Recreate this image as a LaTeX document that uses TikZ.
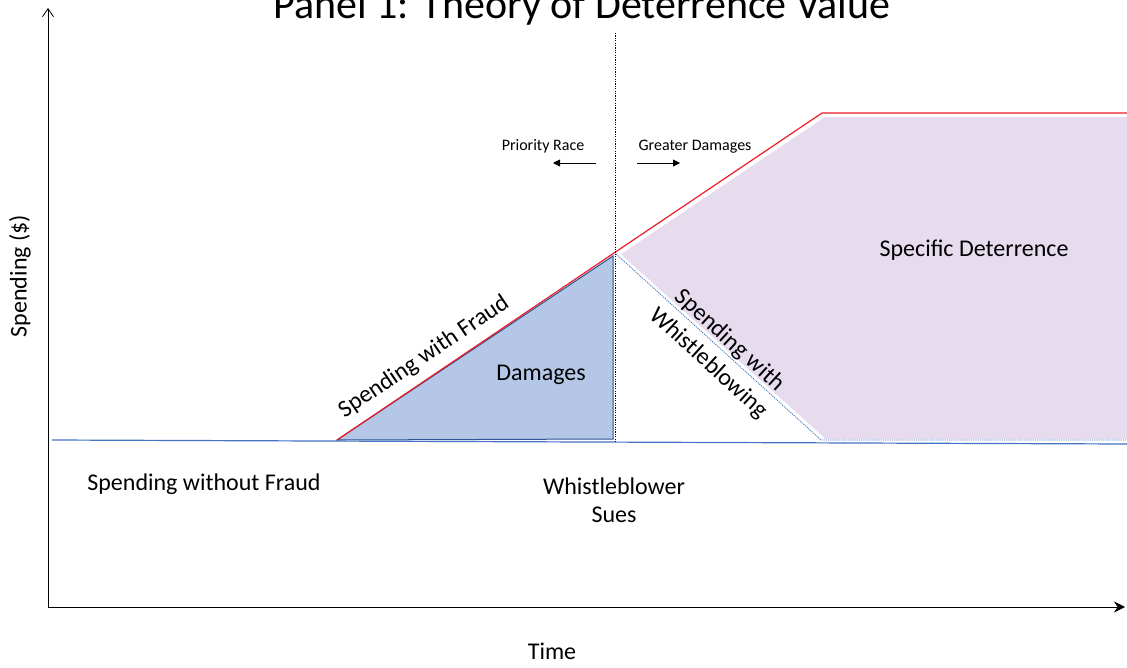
\documentclass[tikz,border=0pt]{standalone}
\usepackage{fontspec}
\setmainfont{Carlito}
\usetikzlibrary{arrows.meta}
\definecolor{redline}{RGB}{237,28,36}
\definecolor{blueline}{RGB}{68,114,196}
\definecolor{dmgfill}{RGB}{180,199,231}
\definecolor{dmgedge}{RGB}{47,85,151}
\definecolor{purplefill}{RGB}{230,220,238}
\tikzset{
  lbl/.style={inner sep=0pt, font=\fontsize{24}{28}\selectfont},
  small/.style={inner sep=0pt, font=\fontsize{16}{19}\selectfont},
  axis/.style={draw=black, line width=0.8pt},
  fraudline/.style={draw=redline, line width=1.2pt},
  basel/.style={draw=blueline, line width=1.2pt},
  wbline/.style={draw=blueline, line width=0.8pt, dash pattern=on 1.2pt off 1pt},
  vline/.style={draw=black, line width=0.8pt, dash pattern=on 1.2pt off 1.2pt},
  smallarrow/.style={draw=black, line width=0.9pt, -{Triangle[length=7pt,width=7pt]}},
}
\begin{document}
\begin{tikzpicture}[x=1pt,y=-1pt]
\useasboundingbox (0,0) rectangle (1127,667);
% key points
\coordinate (O) at (48,607);
\coordinate (Ytop) at (48,8);
\coordinate (Xend) at (1125,607);
\coordinate (b0) at (52,440);
\coordinate (b1) at (1127,444);
\coordinate (f0) at (337,440);
\coordinate (f1) at (614,253);
\coordinate (f2) at (822,113);
\coordinate (f3) at (1127,113);
\coordinate (d1) at (613,256);
\coordinate (d2) at (613,439);
\coordinate (w0) at (616,254);
\coordinate (w1) at (821,440);
\coordinate (w2) at (1127,440);
\coordinate (p0) at (619,254);
\coordinate (p1) at (823,117);
\coordinate (p2) at (1127,117);
\coordinate (p3) at (1127,439);
\coordinate (p4) at (824,439);
\coordinate (v0) at (615,33);
\coordinate (v1) at (615,443);
\coordinate (pr0) at (596,163);
\coordinate (pr1) at (553,163);
\coordinate (gd0) at (637,163);
\coordinate (gd1) at (680,163);

% specific deterrence region
\fill[purplefill] (p0) -- (p1) -- (p2) -- (p3) -- (p4) -- cycle;
\draw[white, line width=2pt] (p4) -- (p0) -- (p1);
% damages triangle
\filldraw[fill=dmgfill, draw=dmgedge, line width=1pt] (f0) -- (d1) -- (d2) -- cycle;
% baseline spending without fraud
\draw[basel] (b0) -- (b1);
% whistleblowing line
\draw[wbline] (w0) -- (w1) -- (w2);
% fraud line
\draw[fraudline] (f0) -- (f1) -- (f2) -- (f3);
% vertical dotted line
\draw[vline] (v0) -- (v1);
% axes
\draw[axis, -{Straight Barb[length=8pt,width=11pt]}] (O) -- (Ytop);
\draw[axis, -{Stealth[length=11pt,width=11pt]}] (O) -- (Xend);
% small arrows
\draw[smallarrow] (pr0) -- (pr1);
\draw[smallarrow] (gd0) -- (gd1);

% texts
\node[inner sep=0pt, anchor=base, font=\fontsize{42}{48}\selectfont] (title) at (582,18) {Panel 1: Theory of Deterrence Value};
\node[small, anchor=base] (prio) at (543,150) {Priority Race};
\node[small, anchor=base] (greater) at (695,150) {Greater Damages};
\node[lbl, rotate=34] (sfraud) at (424,357) {Spending with Fraud};
\node[lbl] (damages) at (541,375) {Damages};
\node[lbl, rotate=-42.4, align=center, font=\fontsize{24}{31}\selectfont] (swb) at (719,352) {Spending with\\Whistleblowing};
\node[lbl] (spec) at (974,250) {Specific Deterrence};
\node[lbl, anchor=base] (nofraud) at (204,490) {Spending without Fraud};
\node[lbl, align=center, anchor=north] (sues) at (614,478) {Whistleblower\\Sues};
\node[lbl] (time) at (552,651) {Time};
\node[lbl, rotate=90] (yl) at (20,276) {Spending (\$)};
\end{tikzpicture}
\end{document}
